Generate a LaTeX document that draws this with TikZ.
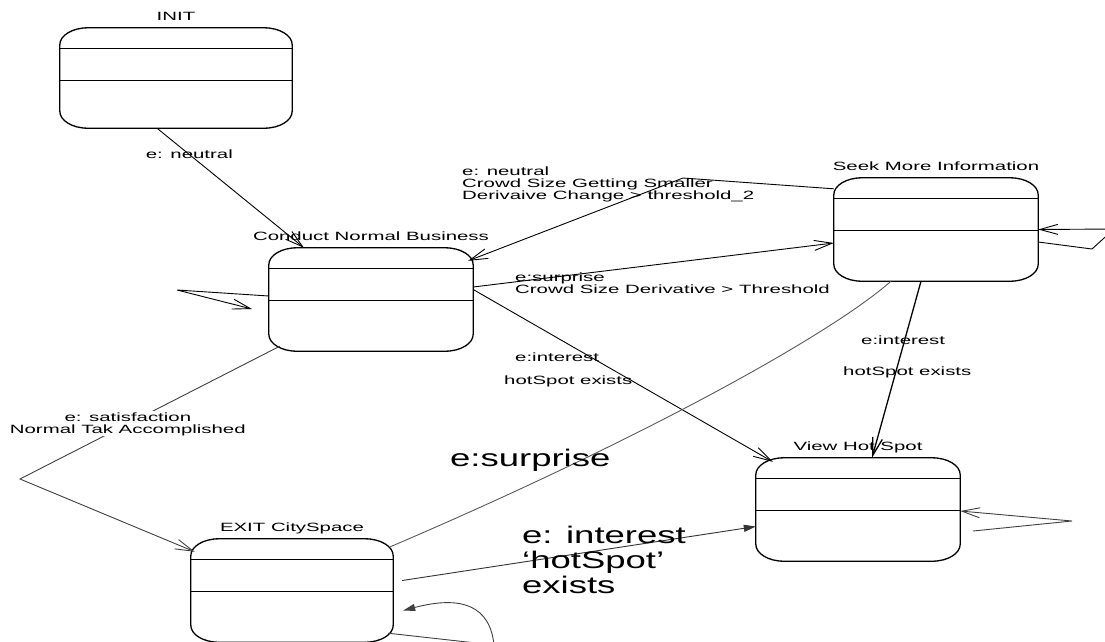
\documentclass[tikz,border=0pt]{standalone}
\usepackage{fontspec}
\newfontfamily\umlsmall[FakeStretch=1.7]{Liberation Sans}
\newfontfamily\umlbig[FakeStretch=1.52]{Liberation Sans}
\newcommand\lblfont{\umlsmall\fontsize{12}{12}\selectfont}
\newcommand\hugelbl{\umlbig\fontsize{24}{25}\selectfont}
\usetikzlibrary{arrows.meta,positioning}
\begin{document}
\begin{tikzpicture}[x=1pt,y=-1pt,
  state/.style={rectangle, minimum width=204pt, minimum height=103pt, inner sep=0pt},
  stateline/.style={line width=1.3pt},
  title/.style={font=\lblfont, inner sep=0pt, text height=8.6pt, text depth=2.5pt},
  lbl/.style={font=\lblfont, inner sep=0pt, align=left},
  big/.style={font=\hugelbl, inner sep=0pt, align=left},
  trans/.style={draw, line width=0.9pt, -{Straight Barb[length=18pt,width=10pt]}},
  trfill/.style={draw, line width=0.9pt, -{Triangle[length=12pt,width=7pt]}}]
\useasboundingbox (0,0) rectangle (1105,641);
\clip (0,0) rectangle (1105,641);

% states
\node[state, minimum width=232pt, minimum height=100pt] (init) at (176,78) {};
\node[state] (cnb) at (371,299.5) {};
\node[state] (seek) at (936,229.5) {};
\node[state] (view) at (858,509.5) {};
\node[state, minimum width=202pt] (exit) at (292,590.5) {};

\foreach \s in {init,cnb,seek,view,exit} {
  \draw[stateline] ([xshift=28pt]\s.north west) -- ([xshift=-28pt]\s.north east)
    arc[start angle=90,end angle=0,x radius=28pt,y radius=17pt]
    -- ([yshift=17pt]\s.south east)
    arc[start angle=0,end angle=-90,x radius=28pt,y radius=17pt]
    -- ([xshift=28pt]\s.south west)
    arc[start angle=270,end angle=180,x radius=28pt,y radius=17pt]
    -- ([yshift=-17pt]\s.north west)
    arc[start angle=180,end angle=90,x radius=28pt,y radius=17pt];
  \draw ([yshift=-20pt]\s.north west) -- ([yshift=-20pt]\s.north east);
  \draw ([yshift=-52pt]\s.north west) -- ([yshift=-52pt]\s.north east);
}

% state names
\node[title, above=4.5pt of init] (tinit) {INIT};
\node[title, above=4.5pt of cnb] (tcnb) {Conduct Normal Business};
\node[title, above=4.5pt of seek] (tseek) {Seek More Information};
\node[title, above=4.5pt of view] (tview) {View Hot Spot};
\node[title, above=4.5pt of exit] (texit) {EXIT CitySpace};

% bends of the connectors
\coordinate (bendn) at (683,178);
\coordinate (bends) at (20,479);
\coordinate (cnbloop) at (177,290);
\coordinate (cnbtip) at (252,309);
\coordinate (seekloopa) at (1092,249);
\coordinate (seekloopb) at (1114,229);
\coordinate (viewtail) at (973,531);
\coordinate (viewloop) at (1072,521);
\coordinate (exitloop) at (494,645);

% transitions
\draw[trans] ([xshift=-19pt]init.south) -- node[lbl, pos=0.22] (lneutral) {e: neutral} ([xshift=-67pt]cnb.north);
\draw[trans] ([yshift=-11pt]seek.north west) -- (bendn) -- ([xshift=-5pt,yshift=-13pt]cnb.north east);
\draw[trans] ([yshift=12.5pt]cnb.east) -- ([yshift=-13.5pt]seek.west);
\draw[trans] ([yshift=10pt]cnb.east) -- ([xshift=17pt,yshift=-4pt]view.north west);
\draw[trans, line width=1.3pt] ([xshift=-15pt]seek.south) -- ([xshift=14pt]view.north);
\draw[trans, draw=black!75] ([xshift=11pt,yshift=5pt]cnb.south west)
  -- node[lbl, align=center, fill=white, inner sep=1pt, pos=0.585] (lsatis) {e: satisfaction\\Normal Tak Accomplished} (bends)
  -- ([xshift=4pt,yshift=-13pt]exit.north west);
\draw[line width=0.9pt, black!65] ([xshift=-45pt]seek.south) .. controls (830,335) and (640,440) .. ([xshift=-3pt,yshift=-8pt]exit.north east);
\draw[trfill, draw=black!80] ([xshift=9pt,yshift=10pt]exit.east) -- ([yshift=-17pt]view.west);

% self transitions
\draw[trans] ([yshift=3.5pt]cnb.west) -- (cnbloop) -- (cnbtip);
\draw[trans] ([yshift=-12.5pt]seek.east) -- (seekloopa) -- (seekloopb) -- (seek.east);
\draw[trans, draw=black!75] (viewtail) -- (viewloop) -- ([yshift=-1.5pt]view.east);
\draw[trfill, draw=black!75] ([xshift=-5pt,yshift=9pt]exit.south east) -- (exitloop)
  .. controls (490,606) and (462,595) .. ([xshift=10pt,yshift=-20pt]exit.east);

% labels
\node[lbl, anchor=west] (lsmaller) at (462,184) {e: neutral\\Crowd Size Getting Smaller\\Derivaive Change > threshold\_2};
\node[lbl, anchor=west] (lsurprise) at (515,283) {e:surprise\\Crowd Size Derivative > Threshold};
\node[lbl, anchor=west] (lintA) at (515,357) {e:interest};
\node[lbl, anchor=west] (lhotA) at (504,381) {hotSpot exists};
\node[lbl, anchor=west] (lintB) at (861,340) {e:interest};
\node[lbl, anchor=west] (lhotB) at (843,372) {hotSpot exists};
\node[big, anchor=west] (lbigsur) at (450,460) {e:surprise};
\node[big, anchor=west] (lbigint) at (522,560) {e: interest\\‘hotSpot’\\exists};
\end{tikzpicture}
\end{document}
